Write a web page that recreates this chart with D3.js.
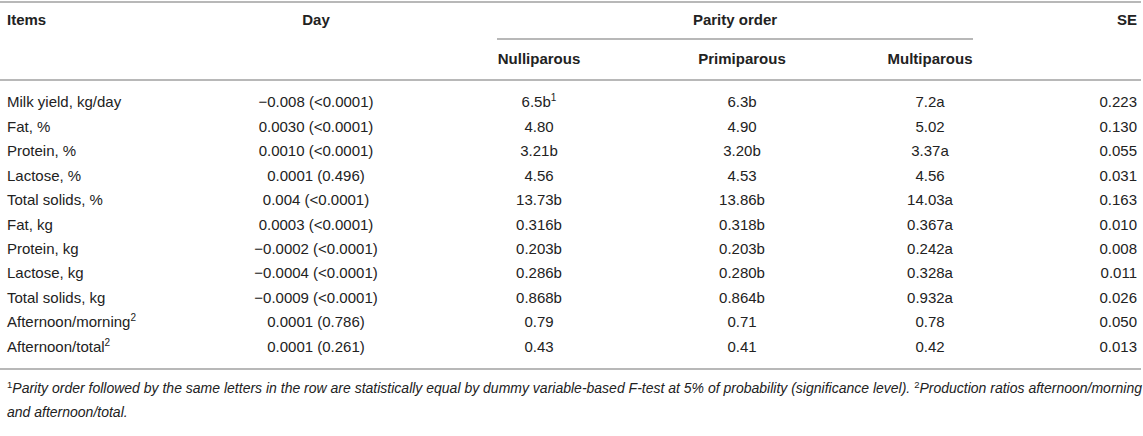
<!DOCTYPE html>
<html>
<head>
<meta charset="utf-8">
<script src="https://cdn.jsdelivr.net/npm/d3@7"></script>
<style>
  body { margin: 0; background: #fff; }
  svg text { font-family: "Liberation Sans", Arial, sans-serif; fill: #222; }
</style>
</head>
<body>
<div id="table"></div>
<script>
// table content, "^" marks a superscript
var items = ["Milk yield, kg/day", "Fat, %", "Protein, %", "Lactose, %", "Total solids, %",
    "Fat, kg", "Protein, kg", "Lactose, kg", "Total solids, kg",
    "Afternoon/morning^2", "Afternoon/total^2"];
var dayEffect = ["\u22120.008 (<0.0001)", "0.0030 (<0.0001)", "0.0010 (<0.0001)", "0.0001 (0.496)",
    "0.004 (<0.0001)", "0.0003 (<0.0001)", "\u22120.0002 (<0.0001)", "\u22120.0004 (<0.0001)",
    "\u22120.0009 (<0.0001)", "0.0001 (0.786)", "0.0001 (0.261)"];
var nulliparous = ["6.5b^1", "4.80", "3.21b", "4.56", "13.73b", "0.316b", "0.203b", "0.286b", "0.868b", "0.79", "0.43"];
var primiparous = ["6.3b", "4.90", "3.20b", "4.53", "13.86b", "0.318b", "0.203b", "0.280b", "0.864b", "0.71", "0.41"];
var multiparous = ["7.2a", "5.02", "3.37a", "4.56", "14.03a", "0.367a", "0.242a", "0.328a", "0.932a", "0.78", "0.42"];
var se = ["0.223", "0.130", "0.055", "0.031", "0.163", "0.010", "0.008", "0.011", "0.026", "0.050", "0.013"];

var columns = ["Items", "Day", "Nulliparous", "Primiparous", "Multiparous", "SE"];
var groupLabel = "Parity order";
var footnote1 = "Parity order followed by the same letters in the row are statistically equal by dummy variable-based F-test at 5% of probability (significance level).";
var footnote2a = "Production ratios afternoon/morning";
var footnote2b = "and afternoon/total.";

var width = 1143, height = 436;
var lineColor = "#b8b8b8";

var svg = d3.select("#table").append("svg")
    .attr("width", width)
    .attr("height", height);

// column anchors
var colX = d3.scaleOrdinal()
    .domain(columns)
    .range([7, 316, 539, 742, 930, 1137]);
var colAnchor = d3.scaleOrdinal()
    .domain(columns)
    .range(["start", "middle", "middle", "middle", "middle", "end"]);

var y = d3.scaleBand()
    .domain(items)
    .range([90, 359]);

function addText(sel, str) {
    var parts = str.split("^");
    sel.append("tspan").text(parts[0]);
    if (parts.length > 1) {
        sel.append("tspan")
            .attr("font-size", "10px")
            .attr("dy", -6)
            .text(parts[1]);
    }
}

function hline(x1, x2, yy) {
    svg.append("line")
        .attr("x1", x1).attr("x2", x2)
        .attr("y1", yy).attr("y2", yy)
        .attr("stroke", lineColor)
        .attr("stroke-width", 2);
}

hline(0, 1141, 2);
hline(497, 973, 39);
hline(0, 1141, 80);
hline(0, 1141, 369);

// headers
var header = svg.append("g").attr("font-weight", "bold").attr("font-size", "15px");
["Items", "Day", "SE"].forEach(function (c) {
    header.append("text")
        .attr("x", colX(c))
        .attr("y", 25)
        .attr("text-anchor", colAnchor(c))
        .text(c);
});
header.append("text")
    .attr("x", 735)
    .attr("y", 25)
    .attr("text-anchor", "middle")
    .text(groupLabel);
["Nulliparous", "Primiparous", "Multiparous"].forEach(function (c) {
    header.append("text")
        .attr("x", colX(c))
        .attr("y", 64)
        .attr("text-anchor", "middle")
        .text(c);
});

// body rows
var rows = items.map(function (it, i) {
    return { Items: it, Day: dayEffect[i], Nulliparous: nulliparous[i],
        Primiparous: primiparous[i], Multiparous: multiparous[i], SE: se[i] };
});

var rowG = svg.selectAll("g.row")
    .data(rows)
    .enter().append("g")
    .attr("class", "row")
    .attr("font-size", "15px")
    .attr("transform", function (d) { return "translate(0," + (y(d.Items) + y.bandwidth() / 2 + 5) + ")"; });

columns.forEach(function (c) {
    rowG.append("text")
        .attr("x", colX(c))
        .attr("text-anchor", colAnchor(c))
        .each(function (d) { addText(d3.select(this), d[c]); });
});

// footnotes
var fn = svg.append("g").attr("font-size", "14px");
var t1 = fn.append("text").attr("x", 7).attr("y", 393);
t1.append("tspan").attr("font-size", "9.5px").attr("dy", -5).text("1");
t1.append("tspan").attr("font-style", "italic").attr("dy", 5).text(footnote1 + " ");
t1.append("tspan").attr("font-size", "9.5px").attr("dy", -5).text("2");
t1.append("tspan").attr("font-style", "italic").attr("dy", 5).text(footnote2a);
fn.append("text").attr("x", 7).attr("y", 417)
    .attr("font-style", "italic")
    .text(footnote2b);
</script>
</body>
</html>
